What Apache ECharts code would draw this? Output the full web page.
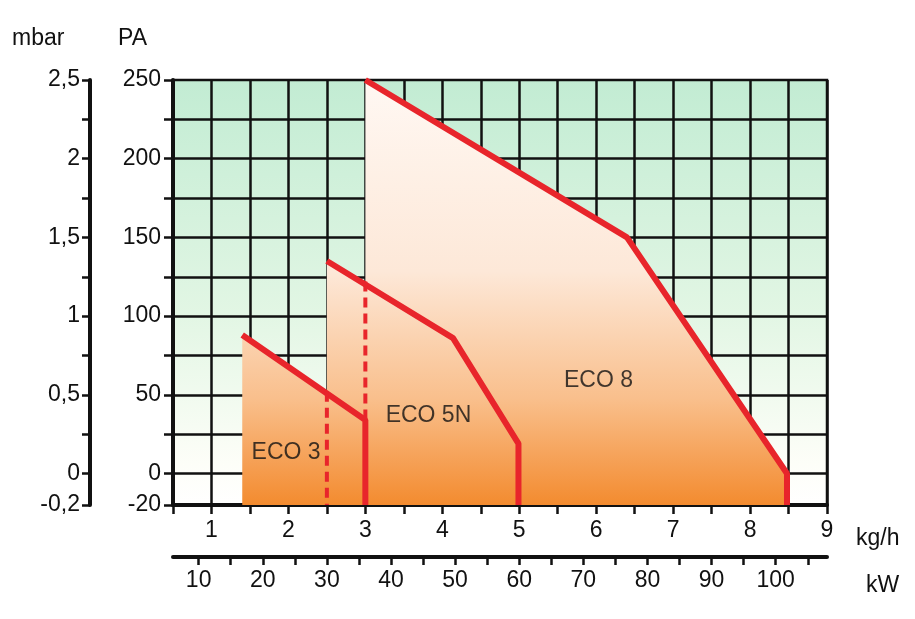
<!DOCTYPE html>
<html><head><meta charset="utf-8">
<script src="https://cdn.jsdelivr.net/npm/echarts@6/dist/echarts.min.js"></script>
<style>html,body{margin:0;padding:0;background:#fff}#c{width:915px;height:619px}</style>
</head><body><div id="c"></div>
<script>
const FONT = "'Liberation Sans Narrow','Arial Narrow','Liberation Sans',Arial,sans-serif";
const paTicks = [-20,0,25,50,75,100,125,150,175,200,225,250];
const paLabels = [-20,0,50,100,150,200,250];
const paGrid = [0,25,50,75,100,125,150,175,200,225];
const mbarTicks = [-0.2,0,0.25,0.5,0.75,1,1.25,1.5,1.75,2,2.25,2.5];
const mbarLabels = [-0.2,0,0.5,1,1.5,2,2.5];
const kwTicks = [10,15,20,25,30,35,40,45,50,55,60,65,70,75,80,85,90,95,100,105];
const kwLabels = [10,20,30,40,50,60,70,80,90,100];
const eco8 = [[3,250],[6.4,150],[8.48,0],[8.48,-20]];
const eco5n = [[2.5,135],[4.14,86],[4.99,19],[4.99,-20]];
const eco3 = [[1.4,88],[3.0,34],[3.0,-20]];
const dash25 = [[2.5,52],[2.5,-20]];
const dash3 = [[3,122],[3,34]];
const labels = [{name:'ECO 3',value:[1.97,13]},{name:'ECO 5N',value:[3.82,37]},{name:'ECO 8',value:[6.03,59]}];

const RED = '#e8252b';
const orange = new echarts.graphic.LinearGradient(0,80,0,505,[
  {offset:0,color:'#fff8f3'},{offset:0.45,color:'#fde8d8'},{offset:0.75,color:'#f9bf8c'},{offset:1,color:'#f38b2f'}],true);
const green = new echarts.graphic.LinearGradient(0,0,0,1,[
  {offset:0,color:'#c2ecd3'},{offset:0.55,color:'#e2f6e4'},{offset:0.9,color:'#fdfef8'},{offset:1,color:'#ffffff'}]);
const txt = {color:'#111',fontFamily:FONT,fontSize:23};

function area(d){return {type:'line',data:d,z:10,symbol:'none',lineStyle:{color:RED,width:6},
  areaStyle:{color:orange,opacity:1,origin:'start'},xAxisIndex:0,yAxisIndex:0};}
function dashed(d){return {type:'line',data:d,z:11,symbol:'none',lineStyle:{color:RED,width:4,type:[10,6]}};}

const chart = echarts.init(document.getElementById('c'));
chart.setOption({
  animation:false,
  grid:{left:173,top:80,width:654,height:425,show:true,backgroundColor:green,borderColor:'#111',borderWidth:2.5,z:0},
  xAxis:[
    {type:'value',min:0.5,max:9,interval:0.5,position:'bottom',z:1,
     axisLine:{show:true,onZero:false,lineStyle:{color:'#111',width:4}},
     axisTick:{show:true,length:9,lineStyle:{color:'#111',width:2.5}},
     axisLabel:{...txt,margin:14,formatter:v=>Number.isInteger(v)?String(v):''},
     splitLine:{show:true,lineStyle:{color:'#111',width:2.5}}},
    {type:'value',min:6,max:108,position:'bottom',offset:52,z:1,
     axisLine:{show:true,onZero:false,lineStyle:{color:'#111',width:4}},
     axisTick:{show:true,length:8,customValues:kwTicks,lineStyle:{color:'#111',width:2.5}},
     axisLabel:{...txt,margin:12,customValues:kwLabels},
     splitLine:{show:false}}
  ],
  yAxis:[
    {type:'value',min:-20,max:250,position:'left',z:1,
     axisLine:{show:true,onZero:false,lineStyle:{color:'#111',width:4}},
     axisTick:{show:true,length:9,customValues:paTicks,lineStyle:{color:'#111',width:2.5}},
     axisLabel:{...txt,margin:12,customValues:paLabels},
     splitLine:{show:false}},
    {type:'value',min:-0.2,max:2.5,position:'left',offset:83,z:1,
     axisLine:{show:true,onZero:false,lineStyle:{color:'#111',width:4}},
     axisTick:{show:true,length:8,customValues:mbarTicks,lineStyle:{color:'#111',width:2.5}},
     axisLabel:{...txt,margin:10,customValues:mbarLabels,formatter:v=>String(Math.round(v*10)/10).replace('.',',')},
     splitLine:{show:false}}
  ],
  graphic:[
    {type:'text',left:12,top:27,style:{text:'mbar',fill:'#111',font:'23px '+FONT}},
    {type:'text',left:118,top:27,style:{text:'PA',fill:'#111',font:'23px '+FONT}},
    {type:'text',left:856,top:527,style:{text:'kg/h',fill:'#111',font:'23px '+FONT}},
    {type:'text',left:866,top:574,style:{text:'kW',fill:'#111',font:'23px '+FONT}}
  ],
  series:[
    {type:'line',data:[],z:2,markLine:{silent:true,symbol:'none',label:{show:false},z:2,
      lineStyle:{color:'#111',width:2.5,type:'solid'},data:paGrid.map(v=>({yAxis:v}))}},
    area(eco8),area(eco5n),area(eco3),dashed(dash25),dashed(dash3),
    {type:'scatter',data:labels,symbolSize:0,z:12,
     label:{show:true,position:'inside',formatter:p=>p.name,...txt}}
  ]
});
</script></body></html>
